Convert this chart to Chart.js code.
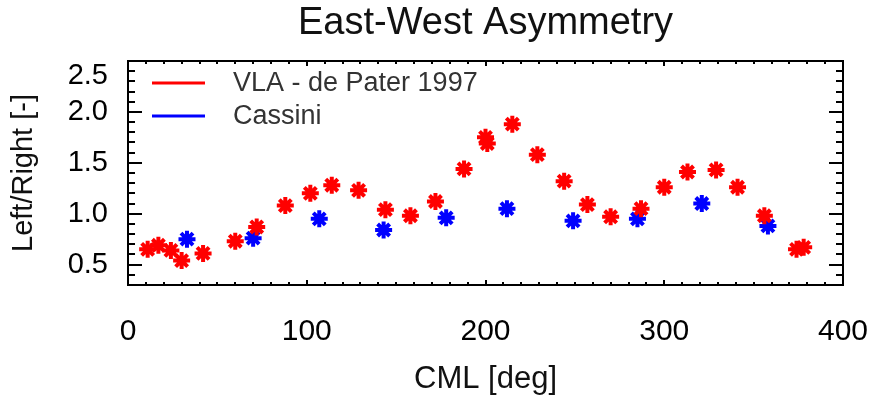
<!DOCTYPE html>
<html>
<head>
<meta charset="utf-8">
<title>East-West Asymmetry</title>
<script src="https://cdn.jsdelivr.net/npm/chart.js@4.4.1/dist/chart.umd.min.js"></script>
<style>
  html, body { margin: 0; padding: 0; background: #fff; }
  #wrap { width: 872px; height: 398px; }
</style>
</head>
<body>
<div id="wrap"><canvas id="chart" width="872" height="398"></canvas></div>
<script>
// VLA measurements (de Pater 1997): central meridian longitude vs. left/right ratio
const vlaCml   = [11, 17, 24, 30, 42, 60, 72, 88, 102, 114, 129, 144, 158, 172, 188, 200, 201, 215, 229, 244, 257, 270, 287, 300, 313, 329, 341, 356, 374, 378];
const vlaRatio = [0.65, 0.69, 0.64, 0.54, 0.61, 0.73, 0.87, 1.08, 1.20, 1.28, 1.23, 1.04, 0.98, 1.12, 1.44, 1.75, 1.69, 1.88, 1.58, 1.32, 1.09, 0.97, 1.05, 1.26, 1.41, 1.43, 1.26, 0.98, 0.65, 0.67];

// Cassini measurements
const cassiniCml   = [33, 70, 107, 143, 178, 212, 249, 285, 321, 358];
const cassiniRatio = [0.75, 0.76, 0.95, 0.84, 0.96, 1.05, 0.93, 0.95, 1.10, 0.88];

// Axis ticks
const xTickValues = [0, 100, 200, 300, 400];
const yTickValues = [0.5, 1.0, 1.5, 2.0, 2.5];
const xMinorStep = 10;
const yMinorStep = 0.1;

const FONT = "'Liberation Sans', Arial, Helvetica, sans-serif";

function toPoints(xs, ys) {
  return xs.map((x, i) => ({ x: x, y: ys[i] }));
}

// Plot frame with inward ticks on all four sides, IDL style
const framePlugin = {
  id: 'frame',
  beforeDatasetsDraw(chart) {
    const { ctx, chartArea: a, scales } = chart;
    const xs = scales.x, ys = scales.y;
    ctx.save();
    ctx.strokeStyle = '#000';
    ctx.lineWidth = 2;
    ctx.strokeRect(a.left, a.top, a.right - a.left, a.bottom - a.top);

    ctx.beginPath();
    // x ticks (bottom and top)
    for (let v = xs.min; v <= xs.max + 1e-9; v += xMinorStep) {
      const px = Math.round(xs.getPixelForValue(v));
      const major = xTickValues.some(t => Math.abs(t - v) < 1e-6);
      const len = major ? 5 : 3;
      ctx.moveTo(px, a.bottom); ctx.lineTo(px, a.bottom - len);
      ctx.moveTo(px, a.top);    ctx.lineTo(px, a.top + len);
    }
    // y ticks (left and right)
    const n = Math.round((ys.max - ys.min) / yMinorStep);
    for (let i = 0; i <= n; i++) {
      const v = ys.min + i * yMinorStep;
      const py = Math.round(ys.getPixelForValue(v));
      const major = yTickValues.some(t => Math.abs(t - v) < 1e-6);
      const len = major ? 14 : 7;
      ctx.moveTo(a.left, py);  ctx.lineTo(a.left + len, py);
      ctx.moveTo(a.right, py); ctx.lineTo(a.right - len, py);
    }
    ctx.stroke();
    ctx.restore();
  },
  afterDraw(chart) {
    // the top y label sits a little below its tick
    const { ctx, chartArea: a, scales } = chart;
    const top = yTickValues[yTickValues.length - 1];
    ctx.save();
    ctx.font = '29px ' + FONT;
    ctx.fillStyle = '#000';
    ctx.textAlign = 'right';
    ctx.textBaseline = 'middle';
    ctx.fillText(top.toFixed(1), a.left - 20, scales.y.getPixelForValue(top) + 15);
    ctx.restore();
  }
};

// Legend drawn inside the plot area: a short line per series plus its name
const insideLegend = {
  id: 'insideLegend',
  afterDraw(chart) {
    const { ctx, chartArea: a } = chart;
    ctx.save();
    ctx.font = '27px ' + FONT;
    ctx.textBaseline = 'middle';
    ctx.textAlign = 'left';
    chart.data.datasets.forEach((ds, i) => {
      const y = a.top + 22 + i * 33;
      ctx.strokeStyle = ds.borderColor;
      ctx.lineWidth = 3;
      ctx.beginPath();
      ctx.moveTo(a.left + 24, y);
      ctx.lineTo(a.left + 77, y);
      ctx.stroke();
      ctx.fillStyle = '#333';
      ctx.fillText(ds.label, a.left + 105, y + 1);
    });
    ctx.restore();
  }
};

function noEdgePadding(scale) {
  scale.paddingLeft = 0;
  scale.paddingRight = 0;
  scale.paddingTop = 0;
  scale.paddingBottom = 0;
}

new Chart(document.getElementById('chart'), {
  type: 'scatter',
  data: {
    datasets: [
      {
        label: 'VLA - de Pater 1997',
        data: toPoints(vlaCml, vlaRatio),
        borderColor: '#ff0000',
        backgroundColor: '#ff0000',
        pointStyle: 'star',
        pointRadius: 8.5,
        pointBorderWidth: 4,
        pointHoverRadius: 8.5
      },
      {
        label: 'Cassini',
        data: toPoints(cassiniCml, cassiniRatio),
        borderColor: '#0000ff',
        backgroundColor: '#0000ff',
        pointStyle: 'star',
        pointRadius: 8.5,
        pointBorderWidth: 4,
        pointHoverRadius: 8.5
      }
    ]
  },
  options: {
    responsive: false,
    devicePixelRatio: 1,
    animation: false,
    events: [],
    layout: { padding: { left: 4, right: 29, top: 0, bottom: 0 } },
    plugins: {
      legend: { display: false },
      tooltip: { enabled: false },
      title: {
        display: true,
        text: 'East-West Asymmetry',
        fullSize: false,
        color: '#111',
        font: { family: FONT, size: 38, weight: 'normal' },
        padding: { top: 1, bottom: 14.4 }
      }
    },
    scales: {
      x: {
        type: 'linear',
        min: 0,
        max: 400,
        grid: { display: false, drawTicks: false },
        border: { display: false },
        afterBuildTicks(scale) { scale.ticks = xTickValues.map(v => ({ value: v })); },
        afterFit(scale) { scale.height = 113; noEdgePadding(scale); },
        ticks: {
          color: '#000',
          padding: 29,
          maxRotation: 0,
          font: { family: FONT, size: 30 },
          callback: v => String(v)
        },
        title: {
          display: true,
          text: 'CML [deg]',
          color: '#111',
          font: { family: FONT, size: 31 },
          padding: { top: 0, bottom: 0 }
        }
      },
      y: {
        type: 'linear',
        min: 0.3,
        max: 2.5,
        grid: { display: false, drawTicks: false },
        border: { display: false },
        afterBuildTicks(scale) { scale.ticks = yTickValues.map(v => ({ value: v })); },
        afterFit(scale) { scale.width = 124; noEdgePadding(scale); },
        ticks: {
          padding: 20,
          font: { family: FONT, size: 29 },
          color: c => (c.tick && c.tick.value === yTickValues[yTickValues.length - 1]) ? 'rgba(0,0,0,0)' : '#000',
          callback: v => Number(v).toFixed(1)
        },
        title: {
          display: true,
          text: 'Left/Right [-]',
          color: '#111',
          font: { family: FONT, size: 29 },
          padding: { top: 3, bottom: 0 }
        }
      }
    }
  },
  plugins: [framePlugin, insideLegend]
});
</script>
</body>
</html>
